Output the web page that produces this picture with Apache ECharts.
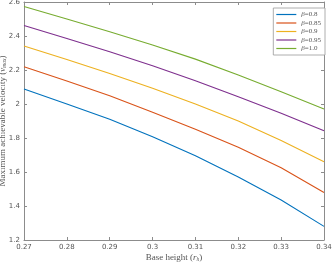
<!DOCTYPE html>
<html><head><meta charset="utf-8">
<script src="https://cdn.jsdelivr.net/npm/echarts@6/dist/echarts.min.js"></script>
<style>html,body{margin:0;padding:0;background:#fff}#c{width:332px;height:263px}</style>
</head><body><div id="c"></div>
<script>
const xValues = [0.27, 0.28, 0.29, 0.30, 0.31, 0.32, 0.33, 0.34];
const beta08  = [2.088, 2.000, 1.910, 1.808, 1.695, 1.570, 1.435, 1.280];
const beta085 = [2.219, 2.135, 2.048, 1.952, 1.852, 1.745, 1.625, 1.480];
const beta09  = [2.341, 2.262, 2.180, 2.093, 2.000, 1.900, 1.785, 1.660];
const beta095 = [2.462, 2.385, 2.307, 2.225, 2.137, 2.042, 1.945, 1.842];
const beta10  = [2.574, 2.500, 2.425, 2.347, 2.264, 2.170, 2.072, 1.970];
const seriesNames = ['β=0.8', 'β=0.85', 'β=0.9', 'β=0.95', 'β=1.0'];
const seriesData = [beta08, beta085, beta09, beta095, beta10];
const colors = ['#0072BD', '#D95319', '#EDB120', '#7E2F8E', '#77AC30'];
const xTicks = ['0.27','0.28','0.29','0.3','0.31','0.32','0.33','0.34'];

const font = 'Liberation Serif';
const txt = '#555';
const chart = echarts.init(document.getElementById('c'), null, {renderer: 'canvas'});
const axCol = '#8c8c8c';
const baseX = {
  type: 'value', min: 0.27, max: 0.34, interval: 0.01,
  axisLine: {show: true, lineStyle: {color: axCol, width: 1}},
  axisTick: {show: true, inside: true, length: 3, lineStyle: {color: axCol}},
  splitLine: {show: false}
};
const baseY = {
  type: 'value', min: 1.2, max: 2.6, interval: 0.2,
  axisLine: {show: true, lineStyle: {color: axCol, width: 1}},
  axisTick: {show: true, inside: true, length: 3, lineStyle: {color: axCol}},
  splitLine: {show: false}
};
const nameRich = {
  n: {fontSize: 9, color: txt, fontFamily: font},
  i: {fontSize: 9, color: txt, fontFamily: font, fontStyle: 'italic'},
  s: {fontSize: 5.5, color: txt, fontFamily: font, fontStyle: 'italic', verticalAlign: 'bottom', padding: [4,0,0,0]}
};
chart.setOption({
  animation: false,
  color: colors,
  grid: {left: 24, right: 8, top: 2, bottom: 23, containLabel: false, outerBoundsMode: 'none'},
  xAxis: [
    Object.assign({}, baseX, {
      position: 'bottom',
      axisLabel: {fontSize: 7, color: txt, fontFamily: 'DejaVu Sans', margin: 4,
        formatter: v => { const s = (Math.round(v*100)/100).toString(); return xTicks.includes(s) ? s : ''; }},
      name: '{n|Base height (}{i|r}{s|h}{n|)}', nameLocation: 'middle', nameGap: 13, nameMoveOverlap: false,
      nameTextStyle: {rich: nameRich}
    }),
    Object.assign({}, baseX, {position: 'top', axisLabel: {show: false}})
  ],
  yAxis: [
    Object.assign({}, baseY, {
      position: 'left',
      axisLabel: {fontSize: 7, color: txt, fontFamily: 'DejaVu Sans', margin: 4,
        formatter: v => (Math.round(v*10)/10).toString()},
      name: '{n|Maximum achievable velocity (}{i|v}{s|max}{n|)}', nameLocation: 'middle', nameGap: 16, nameMoveOverlap: false,
      nameTextStyle: {rich: nameRich}
    }),
    Object.assign({}, baseY, {position: 'right', axisLabel: {show: false}})
  ],
  legend: {
    orient: 'vertical', right: 7, top: 8,
    backgroundColor: '#fff', borderColor: '#999', borderWidth: 0.8,
    padding: [3, 4, 3, 3], itemGap: 1.5, itemWidth: 20, itemHeight: 6,
    icon: 'path://M0,2.4L20,2.4L20,3.6L0,3.6Z',
    data: seriesNames,
    formatter: name => '{b|β}{t|' + name.slice(1) + '}',
    textStyle: {rich: {
      b: {fontSize: 7, color: txt, fontFamily: font, fontStyle: 'italic'},
      t: {fontSize: 7, color: txt, fontFamily: font}
    }}
  },
  series: seriesNames.map((n, k) => ({
    name: n, type: 'line', symbol: 'none', smooth: false,
    lineStyle: {width: 1.1, color: colors[k]},
    data: xValues.map((x, i) => [x, seriesData[k][i]])
  }))
});
</script></body></html>
